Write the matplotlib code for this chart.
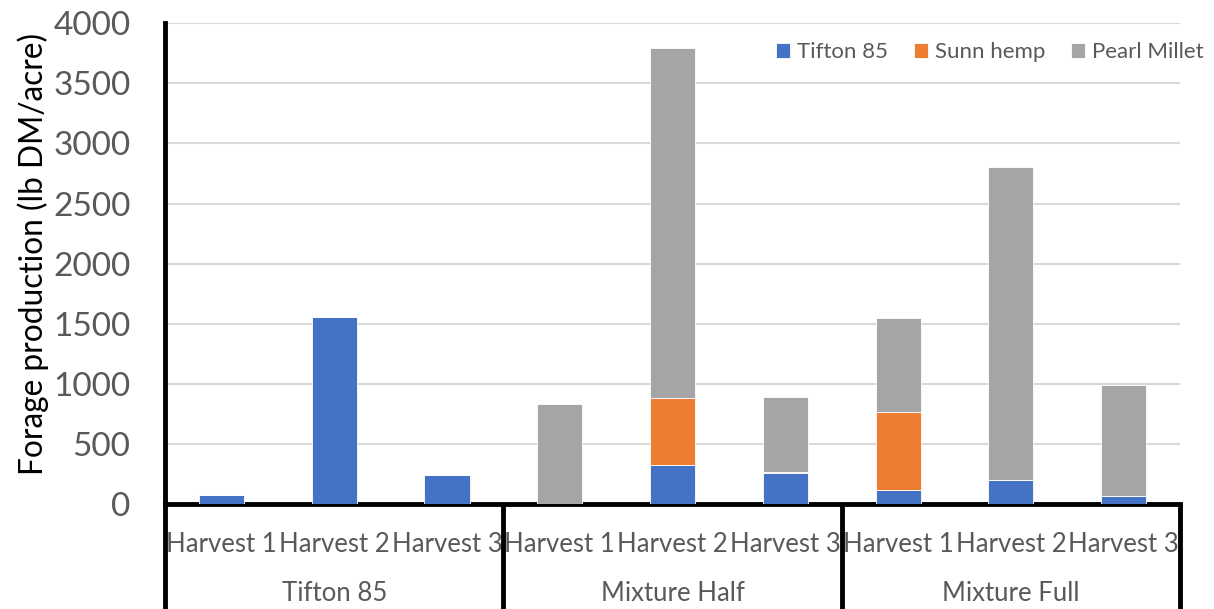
import matplotlib.pyplot as plt
import numpy as np

# forage yield per harvest, lb DM/acre
groups = ["Tifton 85", "Mixture Half", "Mixture Full"]
harvests = ["Harvest 1", "Harvest 2", "Harvest 3"]
tifton = [80, 1560, 240, 0, 330, 262, 120, 200, 69]
sunn_hemp = [0, 0, 0, 0, 555, 10, 650, 0, 0]
pearl_millet = [0, 0, 0, 830, 2905, 617, 780, 2600, 920]

blue = "#4472C4"
orange = "#ED7D31"
grey = "#A5A5A5"
txt = "#595959"

plt.rcParams['font.family'] = ['Lato', 'DejaVu Sans']

fig = plt.figure(figsize=(12.14, 6.09), dpi=100)
ax = fig.add_axes([0.136, 0.172, 0.836, 0.79])

x = np.arange(len(tifton))
w = 0.4
t = np.array(tifton)
s = np.array(sunn_hemp)
p = np.array(pearl_millet)
ax.bar(x, t, w, color=blue, edgecolor="white", linewidth=0.6, label="Tifton 85", zorder=3)
ax.bar(x, s, w, bottom=t, color=orange, edgecolor="white", linewidth=0.6, label="Sunn hemp", zorder=3)
ax.bar(x, p, w, bottom=t + s, color=grey, edgecolor="white", linewidth=0.6, label="Pearl Millet", zorder=3)

ax.set_xlim(-0.5, len(x) - 0.5)
ax.set_ylim(0, 4000)
ax.set_yticks(np.arange(0, 4001, 500))
ax.yaxis.grid(True, color="#D9D9D9", linewidth=1.5, zorder=0)
ax.tick_params(axis="y", length=0, pad=25, labelsize=24, labelcolor=txt)
ax.tick_params(axis="x", length=0, pad=20, labelsize=18.5, labelcolor=txt)
ax.set_xticks(x)
ax.set_xticklabels(harvests * len(groups))

for side in ["top", "right"]:
    ax.spines[side].set_visible(False)
ax.spines["left"].set_linewidth(3.5)
ax.spines["bottom"].set_linewidth(3.5)
ax.spines["left"].set_bounds(0, 4000)

ax.set_ylabel("Forage production (lb DM/acre)", fontsize=22.8, color="black")
ax.yaxis.set_label_coords(-0.114, 0.52)

# group labels and separators under the harvest labels
for i, g in enumerate(groups):
    xc = (i * 3 + 1.5) / 9
    ax.text(xc, -0.185, g, transform=ax.transAxes, ha="center", va="center",
            fontsize=18.5, color=txt)
for k in range(4):
    xs = k / 3
    ax.plot([xs, xs], [0, -0.22], transform=ax.transAxes, color="black",
            linewidth=3.5, clip_on=False, solid_capstyle="butt")

ax.legend(loc="center right", bbox_to_anchor=(1.023, 0.94), ncol=3, frameon=False,
          fontsize=16, labelcolor=txt, handlelength=0.65, handleheight=0.65,
          handletextpad=0.3, columnspacing=1.15, borderpad=0, borderaxespad=0)

fig.savefig("out.png", dpi=100)
